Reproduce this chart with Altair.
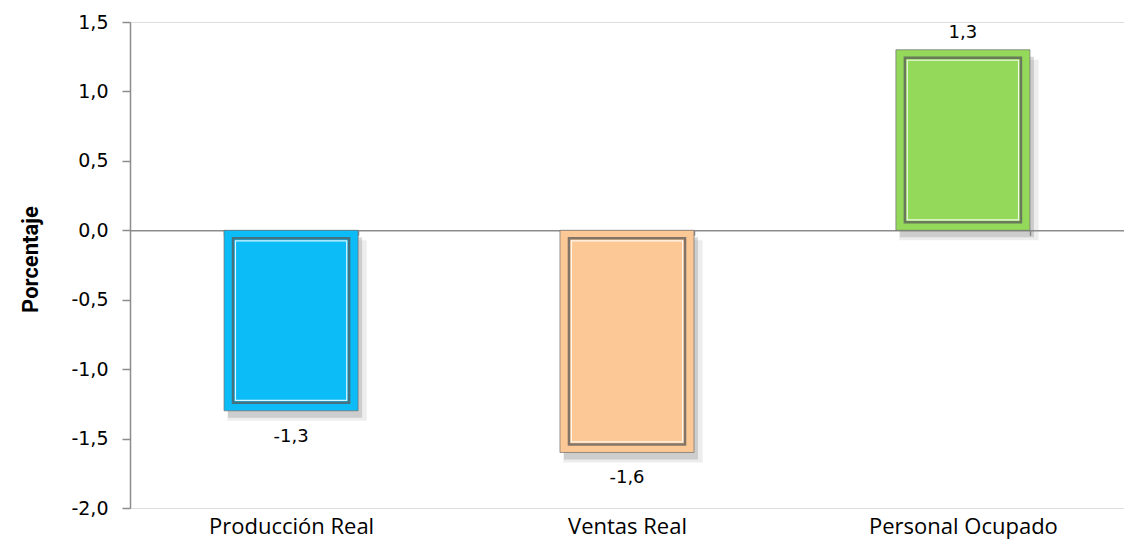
import altair as alt
import pandas as pd

categories = ["Producción Real", "Ventas Real", "Personal Ocupado"]
values = [-1.3, -1.6, 1.3]
colors = ["#0BBCF7", "#FCC895", "#95D95B"]
y_ticks = [-2.0, -1.5, -1.0, -0.5, 0.0, 0.5, 1.0, 1.5]
y_domain = [-2.0, 1.5]

df = pd.DataFrame({"cat": categories, "v": values})

W = 994
H = 486
zero_px = H * (y_domain[1] - 0) / (y_domain[1] - y_domain[0])
AX = "#8c8c8c"

num_expr = "replace(replace(format(datum.value, '.1f'), '.', ','), '\u2212', '-')"

x_enc = alt.X(
    "cat:N",
    sort=categories,
    scale=alt.Scale(paddingInner=0.601, paddingOuter=0.28),
    axis=alt.Axis(
        title=None, orient="bottom", offset=-(H - zero_px),
        domainColor=AX, domainWidth=1.5,
        tickBand="extent", tickColor=AX, tickSize=5, tickWidth=1.5,
        labelAngle=0, labelPadding=281, labelFont="Open Sans",
        labelFontSize=22, labelColor="black", labelLimit=500,
    ),
)

y_enc = alt.Y(
    "lo:Q",
    scale=alt.Scale(domain=y_domain, nice=False, zero=False),
    axis=alt.Axis(
        values=y_ticks, labelExpr=num_expr, grid=False,
        domainColor=AX, domainWidth=1.5, tickColor=AX, tickSize=8, tickWidth=1.5,
        labelFont="DejaVu Sans", labelFontSize=19, labelColor="black", labelPadding=14,
        title="Porcentaje", titleFont="Roboto", titleFontWeight="bold", titleFontSize=22,
        titleColor="black", titleX=-100, titleY=H / 2 - 6, titleAlign="center",
        titleBaseline="middle", titleAngle=270,
    ),
)

color_enc = alt.Color("cat:N", scale=alt.Scale(domain=categories, range=colors), legend=None)

base = alt.Chart(df).transform_calculate(
    lo="min(datum.v, 0)", hi="max(datum.v, 0)",
    lab="replace(replace(format(datum.v, '.1f'), '.', ','), '\u2212', '-')",
)

shadow2 = base.mark_bar(color="#9a9a9a", opacity=0.18, xOffset=6, yOffset=10, y2Offset=10,
                        width={"band": 1.04}).encode(x=x_enc, y=y_enc, y2="hi:Q")
shadow = base.mark_bar(color="#7a7a7a", opacity=0.28, xOffset=4, yOffset=7, y2Offset=7).encode(
    x=x_enc, y=y_enc, y2="hi:Q"
)

outer = base.mark_bar(stroke="#6f6f6f", strokeWidth=1, strokeOpacity=0.7).encode(
    x=x_enc, y=y_enc, y2="hi:Q", color=color_enc
)
inner = base.mark_bar(width={"band": 0.866}, yOffset=-8, y2Offset=8,
                      stroke="#5a5a5a", strokeWidth=2.5, strokeOpacity=0.75).encode(
    x=x_enc, y=y_enc, y2="hi:Q", color=color_enc
)
inner2 = base.mark_bar(width={"band": 0.83}, yOffset=-10.5, y2Offset=10.5,
                       stroke="white", strokeWidth=1.2, strokeOpacity=0.85).encode(
    x=x_enc, y=y_enc, y2="hi:Q", color=color_enc
)

lab_neg = base.transform_filter("datum.v < 0").mark_text(
    baseline="top", dy=17, font="DejaVu Sans", fontSize=18, color="black"
).encode(x=x_enc, y=y_enc, text="lab:N")
lab_pos = base.transform_filter("datum.v >= 0").mark_text(
    baseline="bottom", dy=-8, font="DejaVu Sans", fontSize=18, color="black"
).encode(x=x_enc, y=alt.Y("hi:Q", scale=alt.Scale(domain=y_domain, nice=False, zero=False)), text="lab:N")

chart = alt.layer(shadow2, shadow, outer, inner, inner2, lab_neg, lab_pos).properties(
    width=W, height=H,
    autosize=alt.AutoSizeParams(type="none"),
    padding={"left": 122, "top": 14, "right": 0, "bottom": 34},
).configure_view(stroke=None).configure(background="white")

chart.save("out.html", embed_options={"renderer": "svg", "actions": False})
